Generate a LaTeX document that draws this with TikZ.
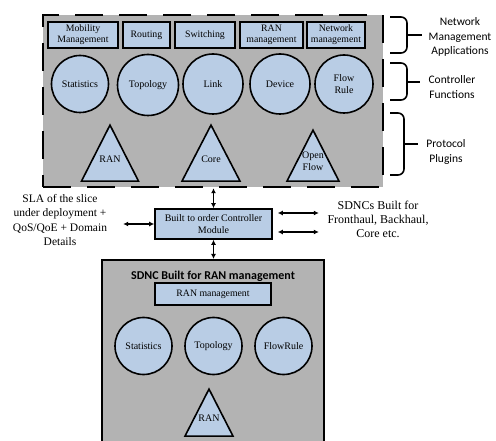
\documentclass[tikz,border=0pt]{standalone}
\usepackage{fontspec}
\setmainfont{Liberation Serif}
\newfontfamily\labelfont{Carlito}
\usetikzlibrary{shapes.geometric,arrows.meta}
\definecolor{panelgray}{RGB}{179,179,179}
\definecolor{boxblue}{RGB}{185,205,229}
\begin{document}
\begin{tikzpicture}[x=1pt,y=-1pt,
    panel/.style={draw,fill=panelgray,line width=2.5pt},
    app/.style={draw,fill=boxblue,line width=1.6pt,inner sep=1pt,align=center,
        font=\fontsize{9.8}{11}\selectfont},
    func/.style={draw,fill=boxblue,circle,line width=1.6pt,inner sep=0pt,align=center,
        font=\fontsize{10}{11.5}\selectfont},
    plug/.style={draw,fill=boxblue,isosceles triangle,shape border rotate=90,
        isosceles triangle stretches,line width=1.6pt,inner sep=0pt,anchor=apex},
    plugtext/.style={align=center,font=\fontsize{10}{11.5}\selectfont},
    side/.style={align=center,font=\fontsize{11.5}{14.5}\selectfont},
    tag/.style={align=center,font=\labelfont\fontsize{11.5}{14.5}\selectfont},
    both/.style={{Latex[length=5pt,width=5pt]}-{Latex[length=5pt,width=5pt]},line width=1.4pt},
    brace/.style={line width=1.6pt,rounded corners=6pt}]
    \clip (0,0) rectangle (496,441);
    % generic controller
    \node[panel,dash pattern=on 28pt off 16pt,minimum width=340pt,minimum height=172pt] (top) at (213,101) {};
    \node[app,minimum width=70pt,minimum height=26pt] (mob) at (83,35) {Mobility\\Management};
    \node[app,minimum width=47pt,minimum height=26pt] (rout) at (146.5,35) {Routing};
    \node[app,minimum width=60pt,minimum height=26pt] (swit) at (205,35) {Switching};
    \node[app,minimum width=63pt,minimum height=26pt] (ranm) at (271.5,35) {RAN\\management};
    \node[app,minimum width=58pt,minimum height=26pt] (netm) at (336,35) {Network\\management};
    \node[func,minimum size=57pt] (stat) at (80,84) {Statistics};
    \node[func,minimum size=61pt] (topo) at (148,85) {Topology};
    \node[func,minimum size=60pt] (link) at (213,84) {Link};
    \node[func,minimum size=60pt] (dev) at (280,84) {Device};
    \node[func,minimum size=58pt] (flow) at (344,84) {Flow\\Rule};
    \node[plug,minimum width=57pt,minimum height=56pt] (ran) at (110,123) {};
    \node[plug,minimum width=58pt,minimum height=56pt] (core) at (211,123) {};
    \node[plug,minimum width=52pt,minimum height=51pt] (of) at (313,128) {};
    \node[plugtext] (ranl) at (110,159) {RAN};
    \node[plugtext] (corel) at (211,159) {Core};
    \node[plugtext] (ofl) at (313,161) {Open\\Flow};
    % braces
    \draw[brace] (390,17) -- (407,17) -- (407,53) -- (390,53);
    \draw[line width=1.6pt] (407,35) -- (422,35);
    \draw[brace] (390,63) -- (407,63) -- (407,100) -- (390,100);
    \draw[line width=1.6pt] (407,82) -- (420,82);
    \draw[brace] (390,113) -- (404,113) -- (404,175) -- (390,175);
    \draw[line width=1.6pt] (404,144) -- (418,144);
    \node[tag] (nma) at (460,37) {Network\\Management\\Applications};
    \node[tag] (cf) at (452,87) {Controller\\Functions};
    \node[tag] (pp) at (446,152) {Protocol\\Plugins};
    % built to order module
    \node[app,minimum width=117pt,minimum height=30pt,font=\fontsize{10}{12}\selectfont] (mod) at (213.5,224) {Built to order Controller\\Module};
    \node[side] (sla) at (60,220) {SLA of the slice\\under deployment +\\QoS/QoE + Domain\\Details};
    \node[side,font=\fontsize{12}{14}\selectfont] (sdnc) at (378,219) {SDNCs Built for\\Fronthaul, Backhaul,\\Core etc.};
    \draw[both] (mod.north) -- (mod.north |- top.south);
    \draw[both] ([xshift=-31pt]mod.west) -- (mod.west);
    \draw[both] ([xshift=5pt,yshift=11pt]mod.east) -- ([xshift=46pt,yshift=11pt]mod.east);
    \draw[both] ([xshift=5pt,yshift=-8pt]mod.east) -- ([xshift=46pt,yshift=-8pt]mod.east);
    % RAN controller
    \node[panel,line width=2pt,minimum width=222pt,minimum height=200pt] (bot) at (213,360) {};
    \draw[both] (mod.south) -- (mod.south |- bot.north);
    \node[font=\labelfont\bfseries\fontsize{12}{14}\selectfont] (ttl) at (213,276) {SDNC Built for RAN management};
    \node[app,minimum width=116pt,minimum height=22pt] (bran) at (213,294) {RAN management};
    \node[func,minimum size=57pt] (bstat) at (143.5,346) {Statistics};
    \node[func,minimum size=57pt] (btopo) at (213.5,346) {Topology};
    \node[func,minimum size=57pt] (bflow) at (283.5,346) {FlowRule};
    \node[plug,minimum width=48pt,minimum height=47pt] (bplug) at (209,387) {};
    \node[plugtext] (bplugl) at (209,418) {RAN};
\end{tikzpicture}
\end{document}
